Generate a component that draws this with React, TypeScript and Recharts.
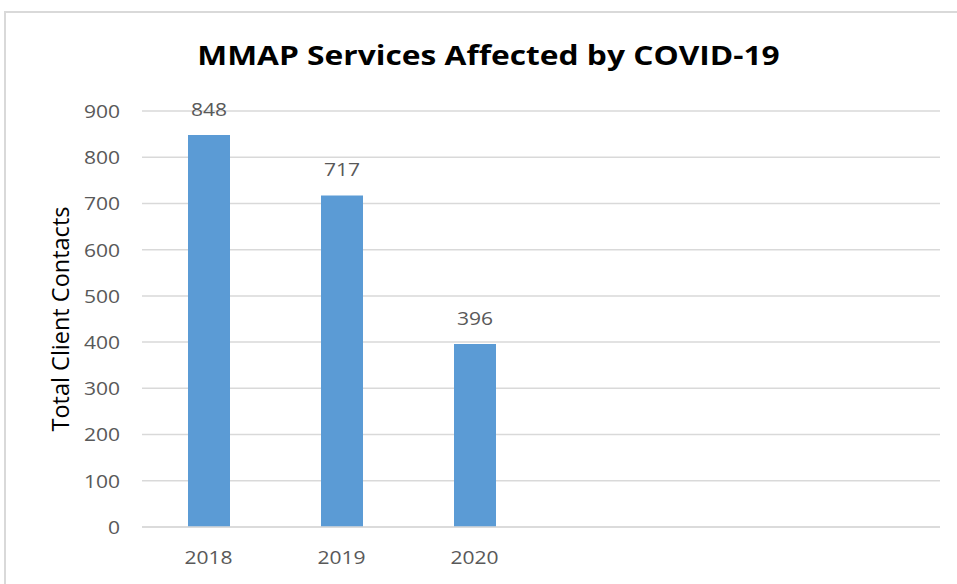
import React from "react";
import { BarChart, Bar, XAxis, YAxis, CartesianGrid, LabelList, Label } from "recharts";

const categories = ["2018", "2019", "2020", " ", "  ", "   "];
const contacts: (number | null)[] = [848, 717, 396, null, null, null];
const yTicks = [0, 100, 200, 300, 400, 500, 600, 700, 800, 900];

const data = categories.map((c, i) => ({ year: c, value: contacts[i] }));

const FONT = "'Open Sans', sans-serif";
const SX = 1.17;
const GREY = "#595959";

const YTick = (props: any) => {
  const { x, y, payload } = props;
  return (
    <text transform={`translate(${x},${y}) scale(${SX},1)`} textAnchor="end" dominantBaseline="central" fill={GREY} fontSize={18} fontFamily={FONT}>
      {payload.value}
    </text>
  );
};

const XTick = (props: any) => {
  const { x, y, payload } = props;
  return (
    <text transform={`translate(${x},${y + 10}) scale(${SX},1)`} textAnchor="middle" dominantBaseline="central" fill={GREY} fontSize={18} fontFamily={FONT}>
      {payload.value}
    </text>
  );
};

const ValueLabel = (props: any) => {
  const { x, y, width, value } = props;
  if (value == null) return null;
  return (
    <text transform={`translate(${x + width / 2},${y - 26}) scale(${SX},1)`} textAnchor="middle" dominantBaseline="central" fill={GREY} fontSize={18} fontFamily={FONT}>
      {value}
    </text>
  );
};

export default function App() {
  return (
    <div style={{ position: "absolute", left: 0, top: 0, width: 957, height: 584, background: "#fff", overflow: "hidden", fontFamily: FONT }}>
      <div style={{ position: "absolute", left: 4, top: 11, width: 1000, height: 700, borderLeft: "2px solid #d9d9d9", borderTop: "2px solid #d9d9d9" }} />
      <div style={{ position: "absolute", left: 0, width: 977, top: 35, textAlign: "center", fontSize: 26, fontWeight: 700, color: "#000", fontFamily: FONT, lineHeight: "40px", transform: "scaleX(1.22)", transformOrigin: "488.5px 20px" }}>
        MMAP Services Affected by COVID-19
      </div>
      <div style={{ position: "absolute", left: 0, top: 0 }}>
        <BarChart width={957} height={584} data={data} margin={{ top: 111, right: 17, bottom: 27, left: 0 }}>
          <CartesianGrid vertical={false} stroke="#d9d9d9" strokeWidth={1.5} />
          <XAxis
            dataKey="year"
            axisLine={{ stroke: "#d9d9d9", strokeWidth: 1.5 }}
            tickLine={false}
            height={30}
            tickMargin={14}
            tick={<XTick />}
            interval={0}
          />
          <YAxis
            domain={[0, 900]}
            ticks={yTicks}
            width={142}
            axisLine={false}
            tickLine={false}
            tickMargin={16}
            tick={<YTick />}
          >
            <Label
              value="Total Client Contacts"
              angle={-90}
              position="insideLeft"
              offset={61}
              style={{ textAnchor: "middle", fill: "#000", fontSize: 23.5, fontFamily: FONT }}
            />
          </YAxis>
          <Bar dataKey="value" fill="#5B9BD5" barSize={42} isAnimationActive={false}>
            <LabelList dataKey="value" content={<ValueLabel />} />
          </Bar>
        </BarChart>
      </div>
    </div>
  );
}
